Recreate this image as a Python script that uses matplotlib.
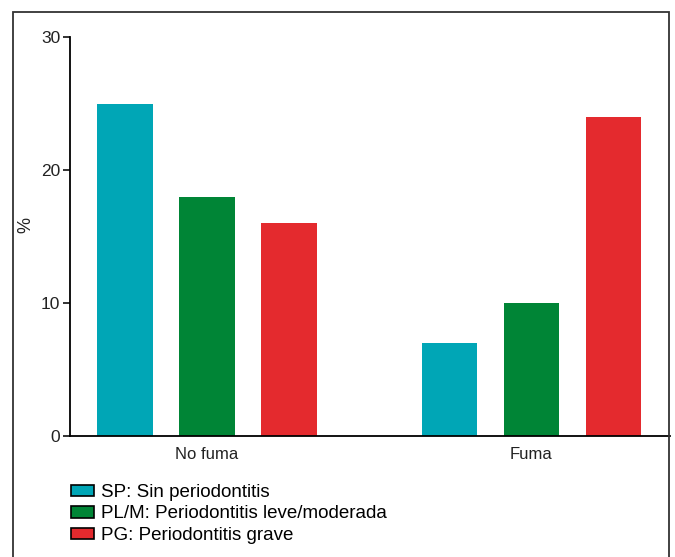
import matplotlib.pyplot as plt
from matplotlib.patches import Rectangle, Patch

plt.rcParams['font.family'] = ['Liberation Sans', 'DejaVu Sans']

groups = ["No fuma", "Fuma"]
series = ["SP: Sin periodontitis", "PL/M: Periodontitis leve/moderada", "PG: Periodontitis grave"]
sp = [25, 7]
plm = [18, 10]
pg = [16, 24]
colors = ["#00A6B6", "#008536", "#E42A2E"]

fig = plt.figure(figsize=(6.75, 5.57), dpi=100)
ax = fig.add_axes([70/675, 1-436/557, 600/675, 399/557])

centers = [0, 3.96]
width = 0.68
for i, (vals, col, lab) in enumerate(zip([sp, plm, pg], colors, series)):
    xs = [c + (i - 1) for c in centers]
    ax.bar(xs, vals, width=width, color=col, label=lab, linewidth=0)

ax.set_xlim(-1.67, 5.65)
ax.set_ylim(0, 30)
ax.set_yticks([0, 10, 20, 30])
ax.set_xticks(centers)
ax.set_xticklabels(groups, fontsize=12, color="#222222")
ax.tick_params(axis='x', length=0, pad=8)
ax.tick_params(axis='y', length=5, width=1.3, pad=2, labelsize=12.5, colors="#222222")
ax.set_ylabel("%", fontsize=13, color="#222222")
ax.yaxis.set_label_coords(-0.06, 0.53)
ax.spines['top'].set_visible(False)
ax.spines['right'].set_visible(False)
ax.spines['left'].set_linewidth(1.3)
ax.spines['bottom'].set_linewidth(1.3)

# legend under the chart
handles = [Patch(facecolor=c, edgecolor="black", linewidth=1.2) for c in colors]
fig.legend(handles, series, loc='upper left', bbox_to_anchor=(71/675, 1-484/557),
           frameon=False, fontsize=13.5, handlelength=1.2, handleheight=0.55,
           handletextpad=0.4, labelspacing=0.24, borderaxespad=0, borderpad=0)

# outer frame
fig.patches.append(Rectangle((13/675, -0.1), 656/675, 1.1 - 12/557,
                             transform=fig.transFigure, fill=False,
                             edgecolor="#333333", linewidth=1.3))

fig.savefig("out.png", dpi=100)
